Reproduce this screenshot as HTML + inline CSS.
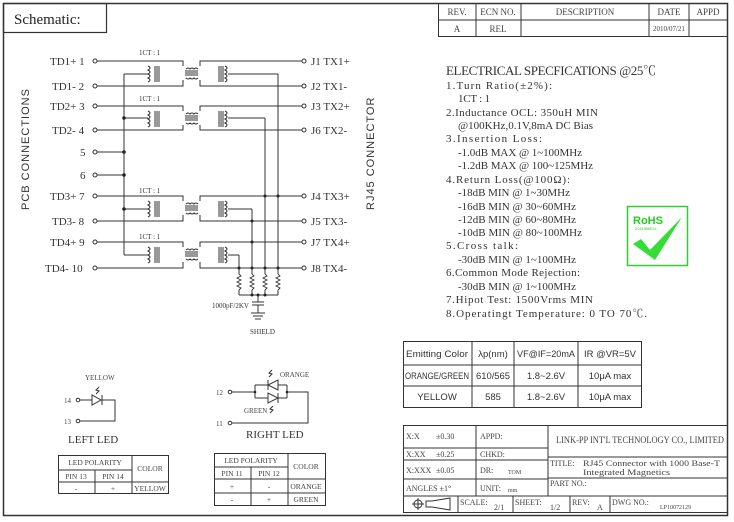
<!DOCTYPE html>
<html><head><meta charset="utf-8"><style>
html,body{margin:0;padding:0;background:#fff;}
svg{display:block;font-family:"Liberation Serif","Noto Serif CJK SC",serif;}
</style></head><body>
<svg width="734" height="522" viewBox="0 0 734 522" xmlns="http://www.w3.org/2000/svg">
<g fill="none" stroke="#333" stroke-width="1">
<rect x="3.5" y="3.5" width="724" height="512" stroke-width="1.5"/>
<rect x="3.5" y="3.5" width="103" height="29" stroke-width="1.2"/>
<rect x="438.5" y="3.5" width="289" height="33"/>
<line x1="438" y1="20" x2="727" y2="20"/>
<line x1="476" y1="3" x2="476" y2="36"/><line x1="521" y1="3" x2="521" y2="36"/>
<line x1="649" y1="3" x2="649" y2="36"/><line x1="689" y1="3" x2="689" y2="36"/>
</g>
<g font-size="9" fill="#444" text-anchor="middle">
<text x="457" y="15">REV.</text><text x="498" y="15">ECN NO.</text><text x="585" y="15">DESCRIPTION</text><text x="669" y="15">DATE</text><text x="708" y="15">APPD</text>
<text x="457" y="32">A</text><text x="498" y="32">REL</text><text x="669" y="31" font-size="7">2010/07/21</text>
</g>
<text x="14" y="24" font-size="15" fill="#222">Schematic:</text>

<g stroke="#333" stroke-width="1" fill="none">
<g fill="#fff">
<circle cx="95" cy="61" r="2"/><circle cx="95" cy="86" r="2"/><circle cx="95" cy="106" r="2"/><circle cx="95" cy="130" r="2"/>
<circle cx="95" cy="152" r="2"/><circle cx="95" cy="175" r="2"/><circle cx="95" cy="196" r="2"/><circle cx="95" cy="221" r="2"/>
<circle cx="95" cy="242" r="2"/><circle cx="95" cy="268" r="2"/>
<circle cx="304" cy="61" r="2"/><circle cx="304" cy="86" r="2"/><circle cx="304" cy="106" r="2"/><circle cx="304" cy="130" r="2"/>
<circle cx="304" cy="196" r="2"/><circle cx="304" cy="221" r="2"/><circle cx="304" cy="242" r="2"/><circle cx="304" cy="268" r="2"/>
</g>
<line x1="124" y1="74" x2="124" y2="255"/>
<line x1="97" y1="152" x2="124" y2="152"/><line x1="97" y1="175" x2="124" y2="175"/>
<path d="M97 61H183V66M97 86H183V80M200 66V61H302M200 80V86H302M124 74H148M228 74H278"/>
<path d="M97 106H183V111M97 130H183V125M200 111V106H302M200 125V130H302M124 118H148M228 118H265"/>
<path d="M97 196H183V201M97 221H183V215M200 201V196H302M200 215V221H302M124 209H148M228 209H252"/>
<path d="M97 242H183V247M97 268H183V262M200 247V242H302M200 262V268H302M124 255H148M228 255H239"/>
<line x1="278" y1="74" x2="278" y2="295"/>
<line x1="265" y1="118" x2="265" y2="295"/>
<line x1="252" y1="209" x2="252" y2="295"/>
<line x1="239" y1="255" x2="239" y2="295"/>
<line x1="239" y1="295" x2="278" y2="295"/>
<line x1="258" y1="295" x2="258" y2="302"/>
<line x1="252" y1="302" x2="264" y2="302"/><line x1="252" y1="305" x2="264" y2="305"/>
<line x1="258" y1="305" x2="258" y2="313"/>
<line x1="251" y1="313" x2="265" y2="313"/><line x1="253" y1="316" x2="263" y2="316"/><line x1="255" y1="319" x2="261" y2="319"/>
</g>
<g fill="none" stroke="#333" stroke-width="0.9">
<rect x="235" y="274" width="48" height="16" fill="#fff" stroke="none"/>
<path d="M239 274l2 2-4 2 4 2-4 2 4 2-4 2 4 2-2 2"/>
<path d="M252 274l2 2-4 2 4 2-4 2 4 2-4 2 4 2-2 2"/>
<path d="M265 274l2 2-4 2 4 2-4 2 4 2-4 2 4 2-2 2"/>
<path d="M278 274l2 2-4 2 4 2-4 2 4 2-4 2 4 2-2 2"/>
</g>
<g id="tx">
<g stroke="#333" stroke-width="1" fill="none">
<path d="M148 66q4 2 0 4q4 2 0 4q4 2 0 4q4 2 0 4M155 66V82M157 66V82M159 66V82"/>
<path d="M185 71h13M185 73h13M185 75h13M186 69q2-2 4 0q2-2 4 0q2-2 4 0M186 78q2 2 4 0q2 2 4 0q2 2 4 0"/>
<path d="M219 66V82M221 66V82M223 66V82M225 66q4 2 0 4q4 2 0 4q4 2 0 4q4 2 0 4"/>
</g>
</g>
<use href="#tx" y="45"/><use href="#tx" y="135"/><use href="#tx" y="181"/>
<g fill="#222">
<circle cx="124" cy="118" r="1.8"/><circle cx="124" cy="152" r="1.8"/><circle cx="124" cy="175" r="1.8"/><circle cx="124" cy="209" r="1.8"/>
<circle cx="278" cy="196" r="1.5"/><circle cx="265" cy="196" r="1.5"/><circle cx="252" cy="221" r="1.5"/><circle cx="252" cy="242" r="1.5"/>
<circle cx="239" cy="268" r="1.5"/><circle cx="252" cy="268" r="1.5"/><circle cx="265" cy="268" r="1.5"/><circle cx="278" cy="268" r="1.5"/>
<circle cx="252" cy="295" r="1.5"/><circle cx="258" cy="295" r="1.5"/><circle cx="265" cy="295" r="1.5"/>
</g>
<g font-size="11" fill="#333">
<text x="50" y="65">TD1+ 1</text><text x="52" y="90">TD1- 2</text><text x="50" y="110">TD2+ 3</text><text x="52" y="134">TD2- 4</text>
<text x="80" y="156">5</text><text x="80" y="179">6</text>
<text x="50" y="200">TD3+ 7</text><text x="52" y="225">TD3- 8</text><text x="50" y="246">TD4+ 9</text><text x="45" y="272">TD4- 10</text>
<text x="311" y="65">J1 TX1+</text><text x="311" y="90">J2 TX1-</text><text x="311" y="110">J3 TX2+</text><text x="311" y="134">J6 TX2-</text>
<text x="311" y="200">J4 TX3+</text><text x="311" y="225">J5 TX3-</text><text x="311" y="246">J7 TX4+</text><text x="311" y="272">J8 TX4-</text>
</g>
<g font-size="7" fill="#333">
<text x="139" y="55">1CT : 1</text><text x="139" y="101">1CT : 1</text><text x="139" y="193">1CT : 1</text><text x="139" y="239">1CT : 1</text>
<text x="212" y="308">1000pF/2KV</text><text x="250" y="334">SHIELD</text>
</g>
<g font-size="11" fill="#333" font-family="Liberation Sans, sans-serif" letter-spacing="1">
<text transform="translate(29,210) rotate(-90)">PCB CONNECTIONS</text>
<text transform="translate(374,210) rotate(-90)">RJ45 CONNECTOR</text>
</g>

<g fill="#333" font-size="11">
<text x="446" y="75" font-size="13" textLength="210">ELECTRICAL SPECFICATIONS @25℃</text>
<text x="446" y="89" textLength="106">1.Turn Ratio(±2%):</text>
<text x="458" y="102" textLength="32">1CT : 1</text>
<text x="446" y="116" textLength="152">2.Inductance OCL: 350uH MIN</text>
<text x="458" y="129" textLength="135">@100KHz,0.1V,8mA DC Bias</text>
<text x="446" y="142" textLength="96">3.Insertion Loss:</text>
<text x="458" y="156" textLength="124">-1.0dB MAX @ 1~100MHz</text>
<text x="458" y="169" textLength="135">-1.2dB MAX @ 100~125MHz</text>
<text x="446" y="183" textLength="124">4.Return Loss(@100Ω):</text>
<text x="458" y="196" textLength="112">-18dB MIN @ 1~30MHz</text>
<text x="458" y="210" textLength="118">-16dB MIN @ 30~60MHz</text>
<text x="458" y="223" textLength="118">-12dB MIN @ 60~80MHz</text>
<text x="458" y="236" textLength="124">-10dB MIN @ 80~100MHz</text>
<text x="446" y="249" textLength="72">5.Cross talk:</text>
<text x="458" y="263" textLength="118">-30dB MIN @ 1~100MHz</text>
<text x="446" y="276" textLength="134">6.Common Mode Rejection:</text>
<text x="458" y="290" textLength="118">-30dB MIN @ 1~100MHz</text>
<text x="446" y="303" textLength="147">7.Hipot Test: 1500Vrms MIN</text>
<text x="446" y="317" textLength="201">8.Operatingt Temperature: 0 TO 70℃.</text>
</g>
<rect x="627.5" y="206.5" width="60" height="59" fill="#fff" stroke="#3c3" stroke-width="1.5"/>
<text x="633" y="224" font-family="Liberation Sans,sans-serif" font-weight="bold" font-size="11" fill="#2c2">RoHS</text>
<text x="635" y="230" font-family="Liberation Sans,sans-serif" font-size="4" fill="#2c2">2011/65/EU</text>
<path d="M633 244l8-5 9 11 32-33-27 43z" fill="#3d3"/>

<g fill="none" stroke="#333" stroke-width="1">
<rect x="403.5" y="341.5" width="238" height="66"/>
<line x1="403" y1="365" x2="642" y2="365"/><line x1="403" y1="386" x2="642" y2="386"/>
<line x1="472" y1="341" x2="472" y2="408"/><line x1="514" y1="341" x2="514" y2="408"/><line x1="578" y1="341" x2="578" y2="408"/>
</g>
<g font-family="Liberation Sans,sans-serif" font-size="9.5" fill="#333" text-anchor="middle">
<text x="437" y="357" textLength="62" lengthAdjust="spacingAndGlyphs">Emitting Color</text><text x="493" y="357">λp(nm)</text><text x="546" y="357" textLength="58" lengthAdjust="spacingAndGlyphs">VF@IF=20mA</text><text x="610" y="357" textLength="52" lengthAdjust="spacingAndGlyphs">IR @VR=5V</text>
<text x="437" y="379" textLength="64" lengthAdjust="spacingAndGlyphs">ORANGE/GREEN</text><text x="493" y="379" textLength="34" lengthAdjust="spacingAndGlyphs">610/565</text><text x="546" y="379">1.8~2.6V</text><text x="610" y="379">10μA max</text>
<text x="437" y="400">YELLOW</text><text x="493" y="400">585</text><text x="546" y="400">1.8~2.6V</text><text x="610" y="400">10μA max</text>
</g>

<g fill="none" stroke="#333" stroke-width="1">
<rect x="403.5" y="425.5" width="324" height="87"/>
<line x1="403" y1="448" x2="548" y2="448"/><line x1="403" y1="460" x2="548" y2="460"/>
<line x1="403" y1="479" x2="548" y2="479"/>
<line x1="548" y1="457" x2="727" y2="457"/><line x1="548" y1="478" x2="727" y2="478"/>
<line x1="403" y1="496" x2="727" y2="496"/>
<line x1="476" y1="425" x2="476" y2="496"/><line x1="548" y1="425" x2="548" y2="496"/>
<line x1="458" y1="496" x2="458" y2="512"/><line x1="513" y1="496" x2="513" y2="512"/><line x1="570" y1="496" x2="570" y2="512"/><line x1="610" y1="496" x2="610" y2="512"/>
<circle cx="418" cy="504" r="4"/><line x1="412" y1="504" x2="424" y2="504"/><line x1="418" y1="498" x2="418" y2="510"/>
<path d="M426 501h6l18-3v12l-18-3h-6z"/>
</g>
<g font-size="8" fill="#444">
<text x="406" y="439">X:X</text><text x="436" y="439">±0.30</text>
<text x="406" y="457">X:XX</text><text x="436" y="457">±0.25</text>
<text x="406" y="473">X:XXX</text><text x="436" y="473">±0.05</text>
<text x="406" y="491">ANGLES ±1°</text>
<text x="480" y="439">APPD:</text><text x="480" y="457">CHKD:</text><text x="480" y="473">DR:</text><text x="508" y="474" font-size="6">TOM</text>
<text x="480" y="491">UNIT:</text><text x="508" y="492" font-size="6">mm</text>
<text x="556" y="443" font-size="9" textLength="168" lengthAdjust="spacingAndGlyphs">LINK-PP INT'L TECHNOLOGY CO., LIMITED</text>
<text x="550" y="466">TITLE:</text><text x="583" y="466" textLength="137" lengthAdjust="spacingAndGlyphs">RJ45 Connector with 1000 Base-T</text>
<text x="583" y="475" textLength="87" lengthAdjust="spacingAndGlyphs">Integrated Magnetics</text>
<text x="550" y="486">PART NO.:</text>
<text x="460" y="505">SCALE:</text><text x="494" y="510">2/1</text>
<text x="515" y="505">SHEET:</text><text x="550" y="510">1/2</text>
<text x="572" y="505">REV:</text><text x="597" y="510">A</text>
<text x="612" y="505">DWG NO.:</text><text x="660" y="509" font-size="6">LP10072129</text>
</g>

<g fill="none" stroke="#333" stroke-width="1">
<circle cx="78" cy="400" r="1.8" fill="#fff"/><circle cx="78" cy="421" r="1.8" fill="#fff"/>
<path d="M80 400H92M102 400H115V421H80"/>
<path d="M92 395V405L101 400Z"/><line x1="102" y1="395" x2="102" y2="405"/>
<path d="M99 387l-3 3 3 1-3 3"/>
<circle cx="230" cy="392" r="1.8" fill="#fff"/><circle cx="230" cy="423" r="1.8" fill="#fff"/>
<path d="M232 392H255M255 385V398M255 385H268M278 385H287M255 398H268M278 398H287M287 385V398M287 392H308V423H232"/>
<path d="M278 380V390L268 385Z M268 380V390"/>
<path d="M268 393V403L278 398Z M278 393V403"/>
<path d="M272 370l-3 3 3 1-3 3"/><path d="M273 406l-3 3 3 1-3 3"/>
</g>
<g fill="#222"><circle cx="255" cy="392" r="1.3"/><circle cx="287" cy="392" r="1.3"/></g>
<g font-size="7" fill="#444">
<text x="85" y="380">YELLOW</text><text x="64" y="403">14</text><text x="64" y="424">13</text>
<text x="280" y="377">ORANGE</text><text x="244" y="413">GREEN</text><text x="216" y="395">12</text><text x="216" y="426">11</text>
</g>
<g font-size="11" fill="#333"><text x="68" y="443">LEFT LED</text><text x="246" y="438">RIGHT LED</text></g>
<g fill="none" stroke="#333" stroke-width="1">
<rect x="58.5" y="455.5" width="110" height="38"/>
<line x1="58" y1="470" x2="132" y2="470"/><line x1="58" y1="482" x2="168" y2="482"/>
<line x1="132" y1="455" x2="132" y2="494"/><line x1="95" y1="470" x2="95" y2="494"/>
<rect x="214.5" y="453.5" width="111" height="52"/>
<line x1="214" y1="467" x2="288" y2="467"/><line x1="214" y1="479" x2="325" y2="479"/><line x1="214" y1="493" x2="325" y2="493"/>
<line x1="288" y1="453" x2="288" y2="506"/><line x1="251" y1="467" x2="251" y2="506"/>
</g>
<g font-size="7.5" fill="#444" text-anchor="middle">
<text x="95" y="465">LED POLARITY</text><text x="150" y="471">COLOR</text>
<text x="76" y="479">PIN 13</text><text x="113" y="479">PIN 14</text>
<text x="76" y="491">-</text><text x="113" y="491">+</text><text x="150" y="491">YELLOW</text>
<text x="251" y="463">LED POLARITY</text><text x="306" y="469">COLOR</text>
<text x="232" y="476">PIN 11</text><text x="269" y="476">PIN 12</text>
<text x="232" y="489">+</text><text x="269" y="489">-</text><text x="306" y="489">ORANGE</text>
<text x="232" y="502">-</text><text x="269" y="502">+</text><text x="306" y="502">GREEN</text>
</g>
</svg>
</body></html>
